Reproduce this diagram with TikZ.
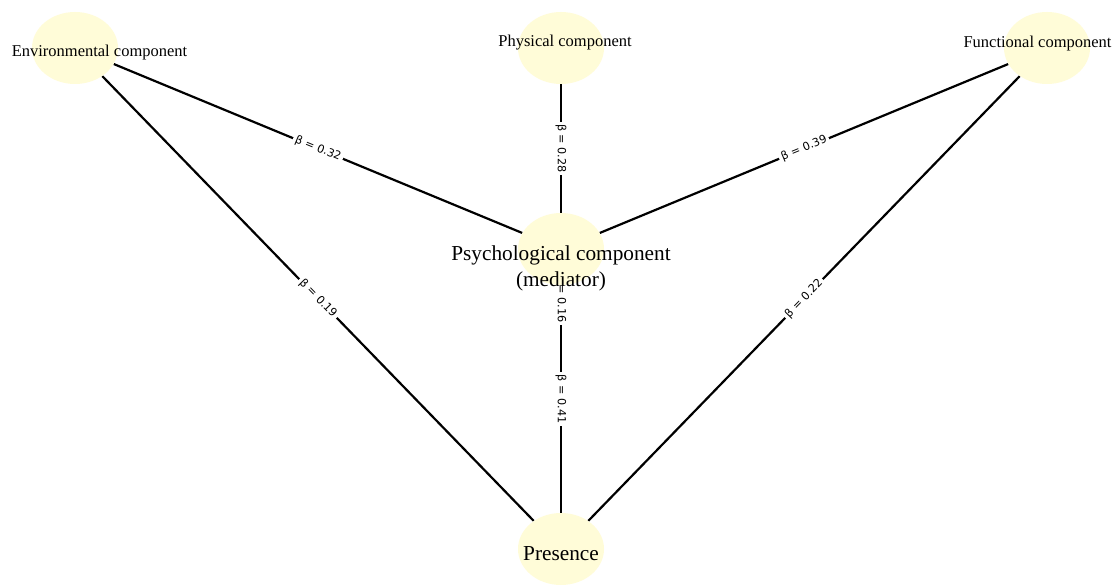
\documentclass[tikz,border=0pt]{standalone}
\usepackage{fontspec}
\setmainfont{Liberation Serif}
\newfontfamily\dejavu{DejaVu Sans}
\usetikzlibrary{shapes.geometric}
\pgfdeclarelayer{bg}
\pgfdeclarelayer{edges}
\pgfsetlayers{bg,edges,main}
\definecolor{nodefill}{HTML}{FFFCD8}
\tikzset{
  circ/.style={ellipse, fill=nodefill, draw=none, minimum width=86pt, minimum height=72pt, inner sep=0pt},
  edge/.style={line width=2.2pt, black},
  elabel/.style={fill=white, inner sep=2.5pt, font=\dejavu\fontsize{11.2}{13}\selectfont, sloped, midway},
  smalltxt/.style={font=\fontsize{16.5}{19}\selectfont, inner sep=0pt, anchor=base},
  bigtxt/.style={font=\fontsize{21.3}{26}\selectfont, inner sep=0pt, align=center}
}
\begin{document}
\begin{tikzpicture}[x=1pt, y=-1pt]
\begin{pgfonlayer}{bg}
\useasboundingbox[fill=white] (0,0) rectangle (1118,581);
\end{pgfonlayer}
% nodes (circles)
\node[circ] (env) at (75,48) {};
\node[circ] (phys) at (561,48) {};
\node[circ] (func) at (1047,48) {};
\node[circ] (psy) at (561,249) {};
\node[circ] (pres) at (561,549) {};
% edges and their labels (below the circles)
\begin{pgfonlayer}{edges}
\draw[edge] (env) -- (psy);
\draw[edge] (env) -- (pres);
\draw[edge] (phys) -- (psy);
\draw[edge] (phys) -- (pres);
\draw[edge] (psy) -- (func);
\draw[edge] (pres) -- (func);
\draw[edge] (psy) -- (pres);
\path (env) -- node[elabel] (l1) {β = 0.32} (psy);
\path (env) -- node[elabel] (l2) {β = 0.19} (pres);
\path (phys) -- node[elabel] (l3) {β = 0.28} (psy);
\path (phys) -- node[elabel] (l4) {β = 0.16} (pres);
\path (psy) -- node[elabel] (l5) {β = 0.39} (func);
\path (pres) -- node[elabel] (l6) {β = 0.22} (func);
\path (psy) -- node[elabel] (l7) {β = 0.41} (pres);
\end{pgfonlayer}
% node texts
\node[smalltxt] (envt) at (99.5,57) {Environmental component};
\node[smalltxt] (physt) at (565,47) {Physical component};
\node[smalltxt] (funct) at (1037.5,48) {Functional component};
\node[bigtxt] (psyt) at (561,268) {Psychological component\\(mediator)};
\node[bigtxt, anchor=base] (prest) at (561,560) {Presence};
\end{tikzpicture}
\end{document}
